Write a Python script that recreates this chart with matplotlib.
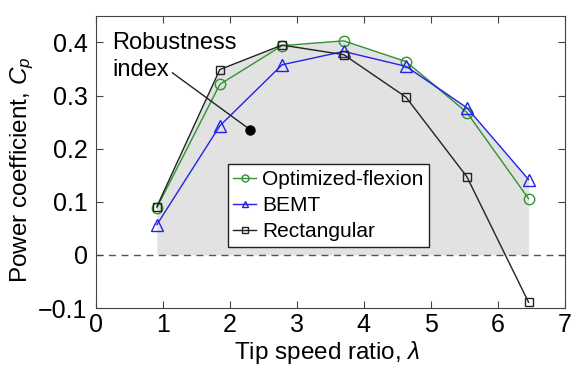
import numpy as np
import matplotlib
matplotlib.use('Agg')
import matplotlib.pyplot as plt

plt.rcParams['font.family'] = ['Liberation Sans', 'DejaVu Sans']
plt.rcParams['mathtext.fontset'] = 'custom'
plt.rcParams['mathtext.rm'] = 'Liberation Sans'
plt.rcParams['mathtext.it'] = 'Liberation Sans:italic'

# tip speed ratio
tsr = [0.91, 1.85, 2.78, 3.70, 4.63, 5.54, 6.46]
# power coefficient
cp_flexion = [0.089, 0.321, 0.394, 0.403, 0.364, 0.268, 0.106]
cp_bemt = [0.057, 0.243, 0.358, 0.383, 0.355, 0.277, 0.142]
cp_rect = [0.091, 0.349, 0.395, 0.377, 0.297, 0.147, -0.089]

# robustness index marker
dot_x, dot_y = 2.30, 0.236

fig = plt.figure(figsize=(5.71, 3.69), dpi=100)
ax = fig.add_axes([0.168, 0.165, 0.821, 0.792])

envelope = np.max([cp_flexion, cp_bemt, cp_rect], axis=0)
ax.fill_between(tsr, 0, envelope, color='#e2e2e2', lw=0, zorder=0)
ax.axhline(0, color='#555555', ls=(0, (5, 4)), lw=1, zorder=1)

ax.plot(tsr, cp_flexion, '-o', color='#2e942e', mfc='none', ms=7.5, lw=1,
        label='Optimized-flexion')
ax.plot(tsr, cp_bemt, '-^', color='#2323e6', mfc='none', ms=8.5, lw=1,
        label='BEMT')
ax.plot(tsr, cp_rect, '-s', color='#222222', mfc='none', ms=5.8, lw=1,
        label='Rectangular')

ax.plot(dot_x, dot_y, 'o', color='black', ms=6.5)
ax.text(0.24, 0.42, 'Robustness\nindex', fontsize=17, ha='left', va='top',
        linespacing=1.3)
ax.annotate('', xy=(dot_x, dot_y), xytext=(1.14, 0.343),
            arrowprops=dict(arrowstyle='-', color='#222222', lw=1,
                            shrinkA=0, shrinkB=3))

ax.set_xlim(0, 7)
ax.set_ylim(-0.1, 0.45)
ax.set_xticks(range(8))
ax.set_yticks([-0.1, 0, 0.1, 0.2, 0.3, 0.4])
ax.set_yticklabels(['\u22120.1', '0', '0.1', '0.2', '0.3', '0.4'])
ax.tick_params(direction='in', top=True, right=True, labelsize=18,
               length=5, color='#444444')
ax.tick_params(axis='y', pad=6)
for s in ax.spines.values():
    s.set_color('#444444')

xl = ax.set_xlabel('Tip speed ratio, $\\lambda$', fontsize=17.5, labelpad=1.5)
xl.set_x(0.494)
yl = ax.set_ylabel('Power coefficient, $C_p$', fontsize=17.5, labelpad=1.5)
yl.set_y(0.473)

leg = ax.legend(loc='lower left', bbox_to_anchor=(0.281, 0.209), fontsize=15,
                frameon=True, fancybox=False, edgecolor='#222222',
                framealpha=1, handlelength=1.1, handletextpad=0.3,
                borderpad=0.27, labelspacing=0.35, borderaxespad=0)
for h in leg.legend_handles:
    h.set_markersize(5)

fig.savefig('out.png', dpi=100)
